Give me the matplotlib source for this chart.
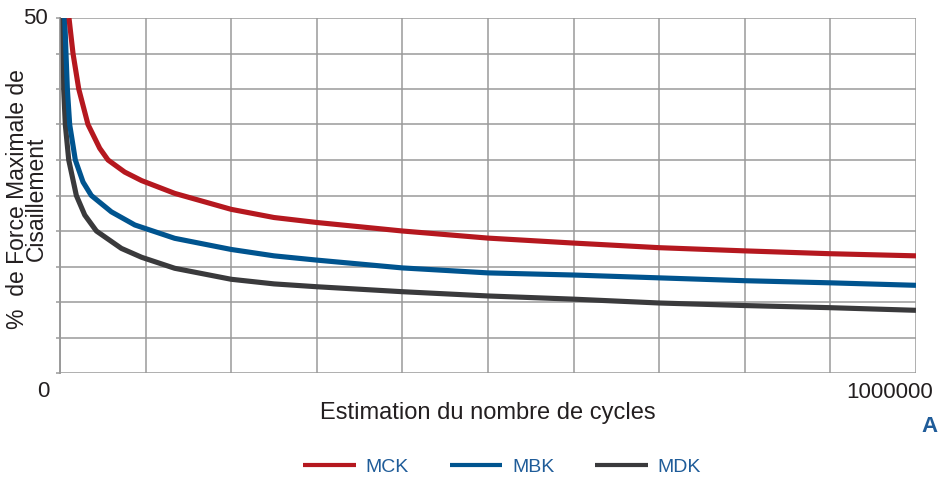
import matplotlib.pyplot as plt

plt.rcParams['font.family'] = ['Liberation Sans', 'DejaVu Sans']

# Courbes (x = nombre de cycles, y = % de force maximale)
mck_x = [10500, 15200, 21900, 32700, 46400, 56100, 75600, 95300, 134000, 200000,
         250000, 300000, 400000, 500000, 600000, 700000, 800000, 900000, 1000000]
mck_y = [50, 45, 40, 35, 31.65, 30, 28.3, 27.1, 25.3, 23.05,
         21.9, 21.2, 20.0, 19.0, 18.3, 17.65, 17.2, 16.8, 16.5]

mbk_x = [5500, 7000, 8600, 11300, 17900, 26900, 36600, 60000, 87400, 134000, 200000,
         250000, 300000, 400000, 500000, 600000, 700000, 800000, 900000, 1000000]
mbk_y = [50, 45, 40, 35, 30, 26.9, 25, 22.7, 20.85, 18.97, 17.4,
         16.5, 15.9, 14.8, 14.1, 13.8, 13.4, 13.0, 12.7, 12.35]

mdk_x = [3600, 4300, 6200, 10200, 19100, 28900, 42500, 71700, 95300, 134000, 200000,
         250000, 300000, 400000, 500000, 600000, 700000, 800000, 900000, 1000000]
mdk_y = [50, 40, 35, 30, 25, 22.25, 20, 17.55, 16.3, 14.75, 13.2,
         12.55, 12.15, 11.45, 10.85, 10.4, 9.86, 9.5, 9.2, 8.83]

series_names = ["MCK", "MBK", "MDK"]
series_colors = ["#b5181f", "#00548f", "#3a3a3c"]

x_grid = [0, 100000, 200000, 300000, 400000, 500000, 600000, 700000, 800000, 900000, 1000000]
y_grid = [0, 5, 10, 15, 20, 25, 30, 35, 40, 45, 50]

fig = plt.figure(figsize=(9.38, 4.79), dpi=100)
ax = fig.add_axes([60 / 938, 1 - 373 / 479, 856 / 938, 355 / 479])

# ordre inverse pour que la bleue passe au-dessus de la noire
data = [(mck_x, mck_y), (mbk_x, mbk_y), (mdk_x, mdk_y)]
for (xs, ys), name, col, z in zip(data, series_names, series_colors, [5, 4, 3]):
    ax.plot(xs, ys, color=col, lw=3.7, label=name, zorder=z,
            solid_capstyle='butt', solid_joinstyle='round')

ax.set_xlim(0, 1000000)
ax.set_ylim(0, 50)
ax.set_xticks(x_grid)
ax.set_yticks(y_grid)
ax.set_xticklabels([])
ax.set_yticklabels([])
ax.tick_params(axis='x', length=0)
ax.tick_params(axis='y', length=3, color='#9a9a9a', width=1.1)
ax.grid(True, color='#9a9a9a', lw=1.1, zorder=0)
ax.set_axisbelow(True)
for side in ['right', 'bottom', 'top']:
    ax.spines[side].set_visible(False)
ax.spines['left'].set_color('#9a9a9a')
ax.spines['left'].set_linewidth(1.4)

txt = '#231f20'
ax.annotate("50", xy=(0, 50), xytext=(-9, 0), textcoords='offset points',
            ha='right', va='center', fontsize=16, color=txt)
ax.annotate("0", xy=(0, 0), xytext=(-12, -13), textcoords='offset points',
            ha='center', va='center', fontsize=16, color=txt)
ax.annotate("1000000", xy=(1000000, 0), xytext=(-19, -14), textcoords='offset points',
            ha='center', va='center', fontsize=16, color=txt)

fig.text(488 / 938, 1 - 413 / 479, "Estimation du nombre de cycles",
         ha='center', va='center', fontsize=17, color=txt)
fig.text(27 / 938, 1 - 199 / 479, "%  de Force Maximale de\nCisaillement",
         rotation=90, ha='center', va='center', multialignment='center',
         fontsize=16.5, color=txt, linespacing=0.78)
fig.text(921 / 938, 1 - 427 / 479, "A", ha='left', va='center',
         fontsize=16, fontweight='bold', color='#1f5c99')

handles, labels = ax.get_legend_handles_labels()
leg = fig.legend(handles, labels, loc='center', bbox_to_anchor=(502 / 938, 1 - 467 / 479),
                 ncol=3, frameon=False, fontsize=14, handlelength=2.7,
                 handletextpad=0.5, columnspacing=2.1)
for t in leg.get_texts():
    t.set_color('#1f5c99')
for h in leg.get_lines():
    h.set_linewidth(3)

fig.savefig("out.png", dpi=100)
